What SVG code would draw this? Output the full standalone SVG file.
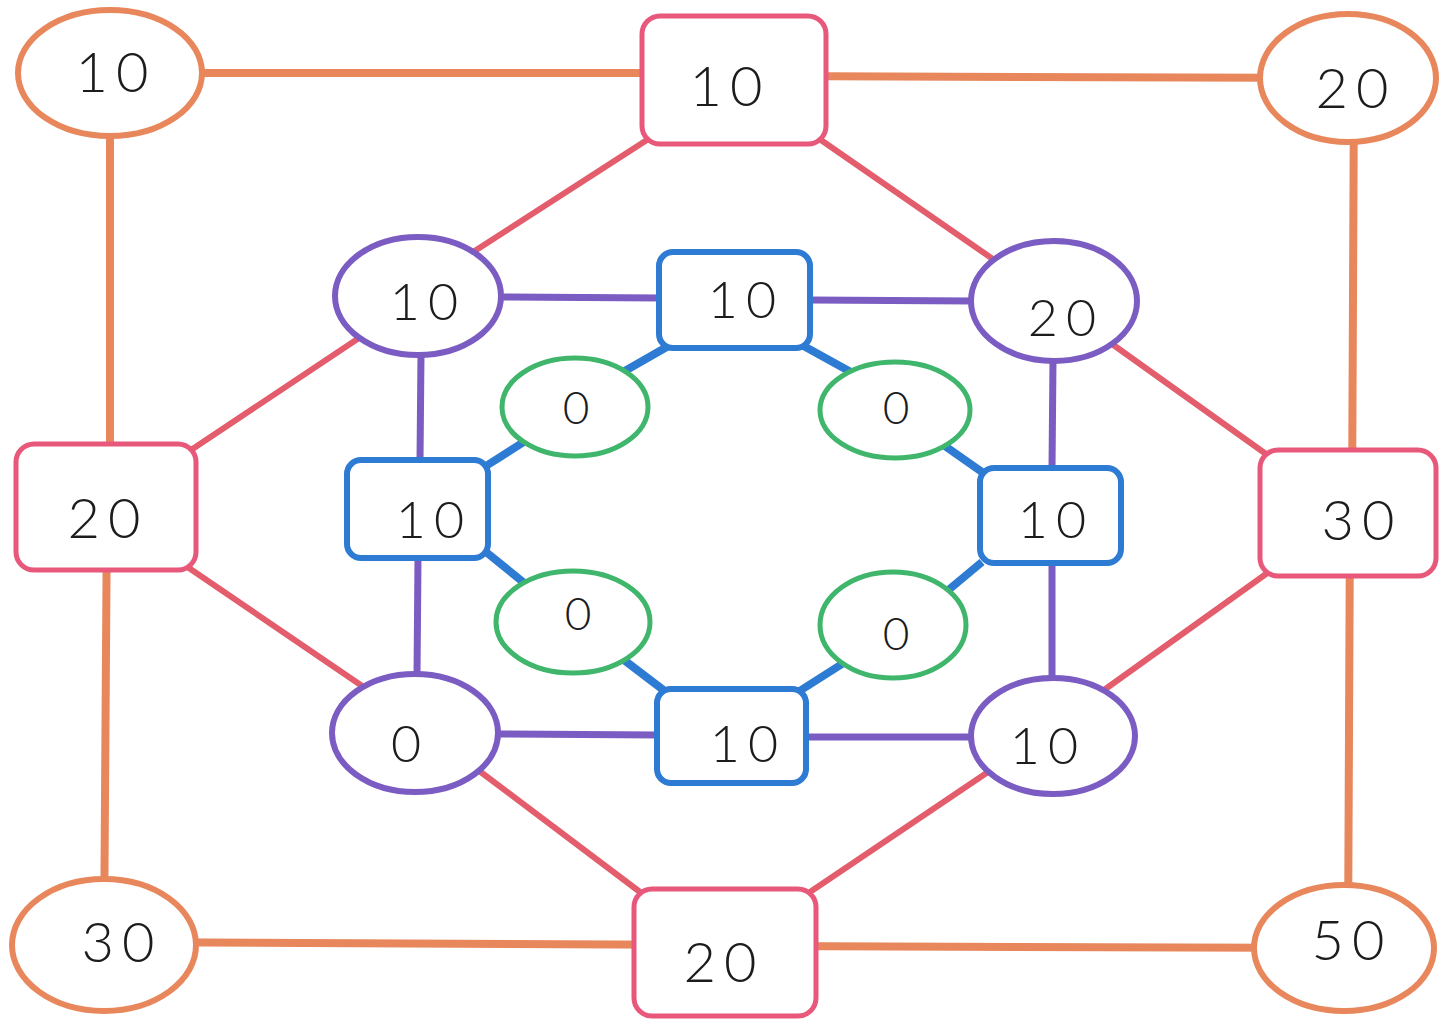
<svg xmlns="http://www.w3.org/2000/svg" width="1439" height="1020" viewBox="0 0 1439 1020">
  <style>
    .bg { fill: #ffffff; }
    .e-orange { stroke: #e8875c; stroke-width: 8; fill: none; stroke-linecap: round; }
    .e-pink { stroke: #e35d6c; stroke-width: 6; fill: none; stroke-linecap: round; }
    .e-purple { stroke: #7b5cc2; stroke-width: 7; fill: none; }
    .e-blue { stroke: #2e7bd3; stroke-width: 8; fill: none; }
    .n-orange { fill: #ffffff; stroke: #e8875c; stroke-width: 6; }
    .n-pink { fill: #ffffff; stroke: #e8587a; stroke-width: 5; }
    .n-purple { fill: #ffffff; stroke: #7b5cc2; stroke-width: 6; }
    .n-blue { fill: #ffffff; stroke: #2e7bd3; stroke-width: 6; }
    .n-green { fill: #ffffff; stroke: #3fb66c; stroke-width: 5; }
    .lbl { font-family: "Lato", "Liberation Sans", sans-serif; font-weight: 300; font-size: 56px; fill: #1c1c1c; text-anchor: middle; dominant-baseline: central; letter-spacing: 8px; }
    .lbl-m { font-size: 52px; }
    .lbl-s { font-size: 46px; }
  </style>

  <rect class="bg" x="0" y="0" width="1439" height="1020"/>

  <!-- connectors -->
  <g id="connectors">
    <!-- outer frame -->
    <line class="e-orange" x1="110" y1="73" x2="734" y2="73"/>
    <line class="e-orange" x1="734" y1="76" x2="1348" y2="78"/>
    <line class="e-orange" x1="110" y1="73" x2="110" y2="507"/>
    <line class="e-orange" x1="107" y1="507" x2="104" y2="945"/>
    <line class="e-orange" x1="1354" y1="78" x2="1352" y2="513"/>
    <line class="e-orange" x1="1350" y1="513" x2="1348" y2="948"/>
    <line class="e-orange" x1="104" y1="942" x2="725" y2="945"/>
    <line class="e-orange" x1="725" y1="946" x2="1344" y2="948"/>
    <!-- outer squares to middle ellipses -->
    <line class="e-pink" x1="650" y1="138" x2="470" y2="254"/>
    <line class="e-pink" x1="818" y1="138" x2="1000" y2="264"/>
    <line class="e-pink" x1="188" y1="452" x2="362" y2="336"/>
    <line class="e-pink" x1="186" y1="566" x2="368" y2="690"/>
    <line class="e-pink" x1="1266" y1="454" x2="1112" y2="344"/>
    <line class="e-pink" x1="1266" y1="574" x2="1104" y2="690"/>
    <line class="e-pink" x1="640" y1="892" x2="478" y2="770"/>
    <line class="e-pink" x1="810" y1="892" x2="988" y2="772"/>
    <!-- middle ring -->
    <line class="e-purple" x1="500" y1="297" x2="660" y2="298"/>
    <line class="e-purple" x1="810" y1="300" x2="972" y2="301"/>
    <line class="e-purple" x1="421" y1="354" x2="420" y2="460"/>
    <line class="e-purple" x1="418" y1="558" x2="417" y2="675"/>
    <line class="e-purple" x1="1053" y1="360" x2="1052" y2="468"/>
    <line class="e-purple" x1="1052" y1="563" x2="1052" y2="679"/>
    <line class="e-purple" x1="498" y1="734" x2="658" y2="735"/>
    <line class="e-purple" x1="806" y1="737" x2="972" y2="737"/>
    <!-- inner ring -->
    <line class="e-blue" x1="672" y1="344" x2="616" y2="376"/>
    <line class="e-blue" x1="800" y1="344" x2="858" y2="376"/>
    <line class="e-blue" x1="486" y1="466" x2="530" y2="438"/>
    <line class="e-blue" x1="486" y1="552" x2="528" y2="586"/>
    <line class="e-blue" x1="982" y1="472" x2="942" y2="444"/>
    <line class="e-blue" x1="982" y1="562" x2="946" y2="592"/>
    <line class="e-blue" x1="666" y1="692" x2="624" y2="660"/>
    <line class="e-blue" x1="798" y1="692" x2="842" y2="664"/>
  </g>

  <!-- outer corner nodes -->
  <g id="corner-tl"><ellipse class="n-orange" cx="110" cy="73" rx="92" ry="63"/><text class="lbl" x="116" y="70">10</text></g>
  <g id="corner-tr"><ellipse class="n-orange" cx="1348" cy="78" rx="88" ry="64"/><text class="lbl" x="1356" y="86">20</text></g>
  <g id="corner-bl"><ellipse class="n-orange" cx="104" cy="945" rx="92" ry="66"/><text class="lbl" x="122" y="940">30</text></g>
  <g id="corner-br"><ellipse class="n-orange" cx="1344" cy="948" rx="90" ry="63"/><text class="lbl" x="1352" y="938">50</text></g>

  <!-- outer edge nodes -->
  <g id="edge-top"><rect class="n-pink" x="642" y="16" width="184" height="128" rx="18"/><text class="lbl" x="730" y="84">10</text></g>
  <g id="edge-left"><rect class="n-pink" x="16" y="444" width="180" height="126" rx="18"/><text class="lbl" x="108" y="516">20</text></g>
  <g id="edge-right"><rect class="n-pink" x="1260" y="450" width="176" height="126" rx="18"/><text class="lbl" x="1362" y="518">30</text></g>
  <g id="edge-bottom"><rect class="n-pink" x="634" y="889" width="182" height="127" rx="18"/><text class="lbl" x="724" y="960">20</text></g>

  <!-- middle ring nodes -->
  <g id="mid-tl"><ellipse class="n-purple" cx="418" cy="296" rx="83" ry="59"/><text class="lbl lbl-m" x="428" y="300">10</text></g>
  <g id="mid-tr"><ellipse class="n-purple" cx="1054" cy="301" rx="83" ry="60"/><text class="lbl lbl-m" x="1066" y="316">20</text></g>
  <g id="mid-bl"><ellipse class="n-purple" cx="415" cy="733" rx="83" ry="59"/><text class="lbl lbl-m" x="410" y="742">0</text></g>
  <g id="mid-br"><ellipse class="n-purple" cx="1053" cy="736" rx="82" ry="58"/><text class="lbl lbl-m" x="1048" y="744">10</text></g>

  <!-- inner ring nodes -->
  <g id="inner-top"><rect class="n-blue" x="659" y="252" width="151" height="96" rx="14"/><text class="lbl lbl-m" x="746" y="298">10</text></g>
  <g id="inner-left"><rect class="n-blue" x="347" y="460" width="141" height="98" rx="14"/><text class="lbl lbl-m" x="434" y="518">10</text></g>
  <g id="inner-right"><rect class="n-blue" x="980" y="468" width="141" height="95" rx="14"/><text class="lbl lbl-m" x="1056" y="518">10</text></g>
  <g id="inner-bottom"><rect class="n-blue" x="657" y="689" width="149" height="94" rx="14"/><text class="lbl lbl-m" x="748" y="742">10</text></g>

  <!-- centre nodes -->
  <g id="core-tl"><ellipse class="n-green" cx="575" cy="407" rx="73" ry="49"/><text class="lbl lbl-s" x="580" y="406">0</text></g>
  <g id="core-tr"><ellipse class="n-green" cx="895" cy="410" rx="75" ry="48"/><text class="lbl lbl-s" x="900" y="406">0</text></g>
  <g id="core-bl"><ellipse class="n-green" cx="573" cy="622" rx="77" ry="51"/><text class="lbl lbl-s" x="582" y="612">0</text></g>
  <g id="core-br"><ellipse class="n-green" cx="893" cy="625" rx="73" ry="53"/><text class="lbl lbl-s" x="900" y="632">0</text></g>
</svg>
